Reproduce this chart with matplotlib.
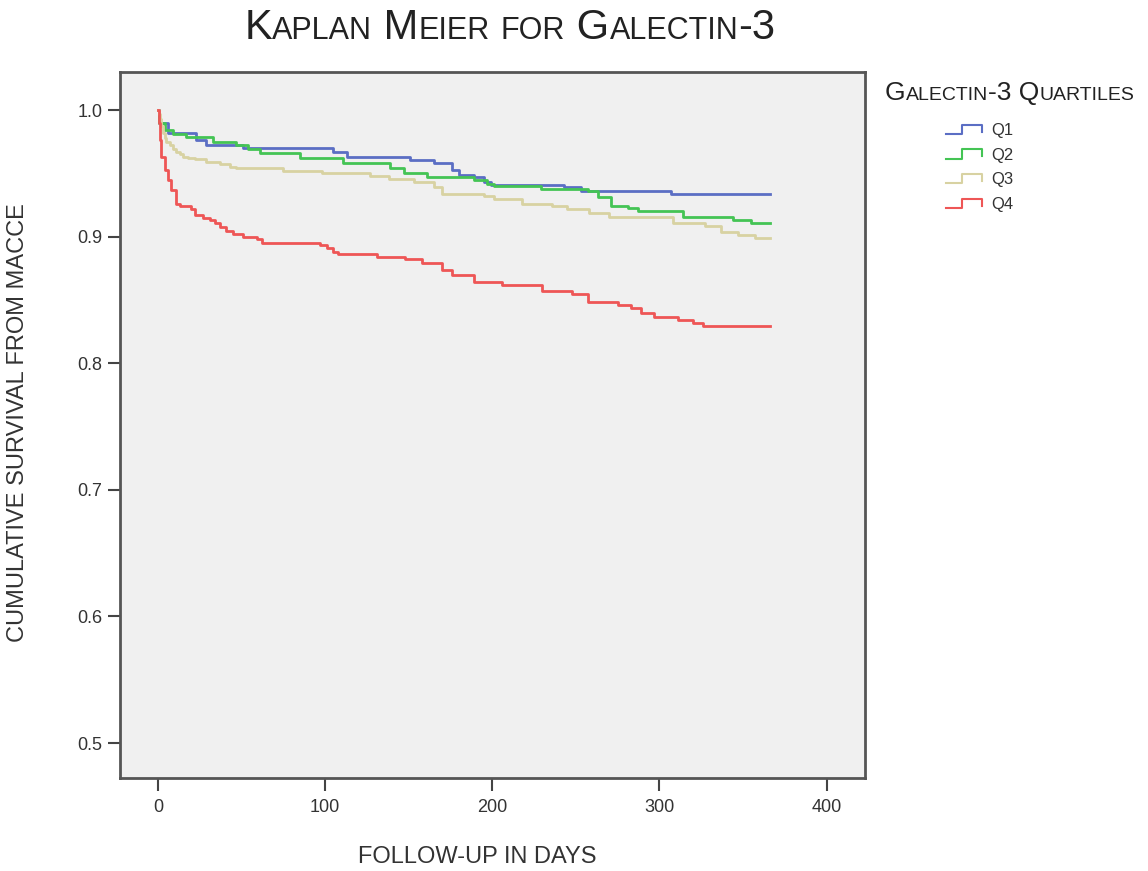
import matplotlib
matplotlib.use('Agg')
import matplotlib.pyplot as plt
from matplotlib import font_manager
from matplotlib.lines import Line2D
from matplotlib.legend_handler import HandlerBase

# Kaplan-Meier step data (time in days, survival after the step)
q1_t = [0, 0.5, 6, 23, 29, 51, 105, 113, 151, 165, 176, 180, 189, 195, 199, 243, 253, 307, 366]
q1_s = [1.0, 0.990, 0.982, 0.976, 0.9724, 0.9697, 0.967, 0.963, 0.9605, 0.958, 0.9526, 0.9487, 0.947,
        0.9434, 0.9408, 0.939, 0.9363, 0.9337, 0.9337]

q2_t = [0, 0.5, 4, 9, 17, 33, 47, 54, 61, 85, 111, 139, 147, 161, 189, 197, 201, 229, 257, 263, 271,
        281, 287, 314, 344, 355, 366]
q2_s = [1.0, 0.990, 0.984, 0.981, 0.979, 0.975, 0.9724, 0.969, 0.9658, 0.9624, 0.958, 0.954, 0.950,
        0.947, 0.9447, 0.9413, 0.940, 0.938, 0.936, 0.9316, 0.9245, 0.9224, 0.920, 0.9158, 0.913,
        0.9105, 0.9105]

q3_t = [0, 0.5, 1, 2, 3, 4, 5, 7, 9, 11, 13, 15, 18, 22, 29, 37, 43, 47, 75, 98, 127, 138, 153, 165,
        170, 195, 201, 218, 236, 245, 258, 270, 308, 327, 337, 347, 357, 366]
q3_s = [1.0, 0.997, 0.993, 0.987, 0.982, 0.978, 0.975, 0.972, 0.969, 0.967, 0.965, 0.963, 0.9624,
        0.961, 0.959, 0.9573, 0.955, 0.954, 0.952, 0.950, 0.948, 0.9455, 0.9434, 0.9395, 0.934, 0.932,
        0.9295, 0.926, 0.924, 0.922, 0.919, 0.9152, 0.9105, 0.908, 0.904, 0.901, 0.8987, 0.8987]

q4_t = [0, 0.5, 1, 2, 4, 6, 8, 11, 13, 20, 22, 27, 31, 34, 37, 41, 45, 51, 59, 62, 97, 101, 105, 108,
        131, 148, 158, 170, 176, 189, 206, 230, 248, 257, 275, 283, 289, 297, 311, 320, 326, 366]
q4_s = [1.0, 0.990, 0.976, 0.963, 0.9526, 0.945, 0.937, 0.926, 0.924, 0.922, 0.917, 0.915, 0.913,
        0.9105, 0.9074, 0.9045, 0.902, 0.900, 0.898, 0.8952, 0.8934, 0.891, 0.888, 0.8863, 0.884,
        0.882, 0.8794, 0.8736, 0.8697, 0.8645, 0.862, 0.857, 0.855, 0.8486, 0.846, 0.8436, 0.8397,
        0.8367, 0.834, 0.832, 0.8297, 0.8297]

labels = ['Q1', 'Q2', 'Q3', 'Q4']
colors = ['#5b6ec4', '#44c454', '#d8d2a2', '#ee5656']
xticks = [0, 100, 200, 300, 400]
yticks = [0.5, 0.6, 0.7, 0.8, 0.9, 1.0]

names = {f.name for f in font_manager.fontManager.ttflist}
narrow = 'Liberation Sans Narrow' if 'Liberation Sans Narrow' in names else 'Liberation Sans'
plt.rcParams['font.family'] = ['Liberation Sans', 'DejaVu Sans']

fig = plt.figure(figsize=(11.48, 8.71), dpi=100)
ax = fig.add_axes([0.1045, 0.1068, 0.649, 0.8105])
ax.set_facecolor('#f0f0f0')

series = [(q1_t, q1_s), (q2_t, q2_s), (q3_t, q3_s), (q4_t, q4_s)]
for (t, s), c, lab in zip(series, colors, labels):
    ax.step(t, s, where='post', color=c, lw=2, label=lab)

ax.set_xlim(-22.7, 423)
ax.set_ylim(0.4724, 1.030)
ax.set_xticks(xticks)
ax.set_yticks(yticks)
ax.set_yticklabels([f'{v:.1f}' for v in yticks])
for sp in ax.spines.values():
    sp.set_color('#555555')
    sp.set_linewidth(2)
ax.tick_params(direction='out', length=9, width=1.5, color='#444444', labelsize=13,
               labelcolor='#333333')
ax.tick_params(axis='x', pad=6)

ax.set_xlabel('FOLLOW-UP IN DAYS', fontsize=17, color='#333333', va='center')
ax.xaxis.set_label_coords(0.479, -0.112)
ax.set_ylabel('CUMULATIVE SURVIVAL FROM MACCE', fontsize=17, color='#333333', va='center')
ax.yaxis.set_label_coords(-0.137, 0.504)


class StepHandler(HandlerBase):
    def create_artists(self, legend, orig, xd, yd, w, h, fontsize, trans):
        xs = [xd, xd + w * 0.45, xd + w * 0.45, xd + w, xd + w]
        ys = [yd + h * 0.1, yd + h * 0.1, yd + h * 0.9, yd + h * 0.9, yd + h * 0.3]
        ln = Line2D(xs, ys, color=orig.get_color(), lw=1.5, transform=trans)
        return [ln]


handles = ax.get_lines()
fig.legend(handles, labels, handler_map={Line2D: StepHandler()}, loc='upper left',
           bbox_to_anchor=(0.811, 0.876), frameon=False, fontsize=12, handlelength=2.15,
           handleheight=0.7, labelspacing=0.58, handletextpad=0.55, labelcolor='#333333')


def small_caps(x, y, text, big, small, family, ha='left', color='#222222'):
    # draw text in small caps by placing upper and lower runs side by side
    runs = []
    for ch in text:
        low = ch.islower()
        if runs and runs[-1][1] == low:
            runs[-1][0] += ch
        else:
            runs.append([ch, low])
    r = fig.canvas.get_renderer()
    arts = []
    pos = 0.0
    for chunk, low in runs:
        tx = fig.text(0, y, chunk.upper(), fontsize=small if low else big, family=family,
                      color=color, va='baseline')
        w = tx.get_window_extent(r).width / fig.bbox.width
        arts.append((tx, pos))
        pos += w
    start = x - pos / 2 if ha == 'center' else x
    for tx, p in arts:
        tx.set_x(start + p)


small_caps(0.444, 0.955, 'Kaplan Meier for Galectin-3', 30, 22, [narrow, 'DejaVu Sans'], ha='center')
small_caps(0.771, 0.885, 'Galectin-3 Quartiles', 19, 14, ['Liberation Sans', 'DejaVu Sans'])

fig.savefig('out.png', dpi=100, facecolor='white')
